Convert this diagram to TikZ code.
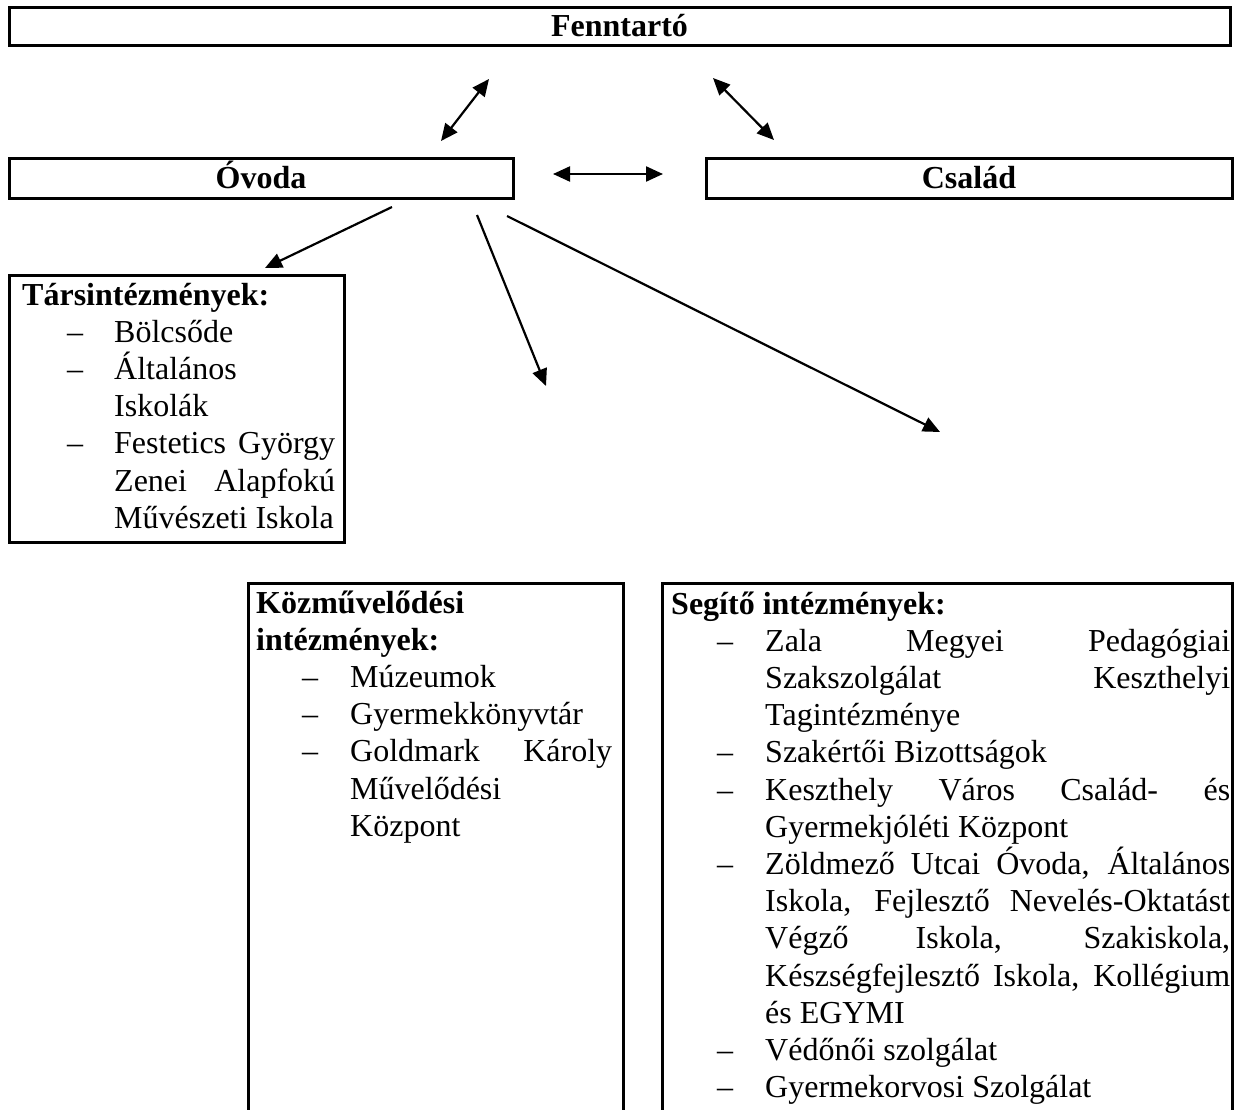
\documentclass[tikz,border=0pt]{standalone}
\usepackage{fontspec}
\setmainfont{Liberation Serif}
\usetikzlibrary{arrows.meta}

\newcommand\listsetup{\fontsize{32}{37.2}\selectfont\tolerance=10000\hbadness=10000\hyphenpenalty=10000\exhyphenpenalty=10000\parindent=0pt\parskip=0pt\rightskip=0pt\leftskip=0pt\spaceskip=0pt\xspaceskip=0pt\parfillskip=0pt plus 1fil\relax}
% #1 dash offset, #2 text offset, #3 text
\newcommand\myitem[3]{\par\noindent\hangindent=#2\hangafter=1\hspace*{#1}\makebox[\dimexpr#2-#1\relax][l]{–}#3\par}
\newcommand\listbox[2]{\begin{minipage}[t]{#1}\listsetup #2\end{minipage}}

\tikzset{
  frame/.style={draw=black, line width=3pt, rectangle, inner sep=0pt},
  headbox/.style={frame, font=\bfseries\fontsize{32}{37.2}\selectfont, text height=24pt, text depth=4pt},
  listtext/.style={anchor=base west, inner sep=0pt},
  onearrow/.style={line width=2.2pt, -{Triangle[length=17pt,width=15pt]}},
  twoarrow/.style={line width=2.2pt, {Triangle[length=17pt,width=15pt]}-{Triangle[length=17pt,width=15pt]}}
}

\begin{document}
\begin{tikzpicture}[x=1pt,y=-1pt]
\useasboundingbox (0,0) rectangle (1234,1110);
\fill[white] (0,0) rectangle (1234,1110);

% header boxes
\node[headbox, minimum width=1221pt, minimum height=38pt] (fenn) at (619.5,27) {Fenntartó};
\node[headbox, minimum width=504pt, minimum height=40pt] (ovoda) at (261,179) {Óvoda};
\node[headbox, minimum width=526pt, minimum height=40pt] (csalad) at (969,179) {Család};

% list boxes
\node[frame, minimum width=335pt, minimum height=267pt] (tars) at (176.5,408.5) {};
\node[frame, minimum width=375pt, minimum height=557pt] (kozm) at (435.5,861.5) {};
\node[frame, minimum width=570pt, minimum height=557pt] (segito) at (947,861.5) {};

% texts
\node[listtext] (tarstext) at (22,305) {\listbox{313pt}{%
\textbf{Társintézmények:}\par
\myitem{45pt}{92pt}{Bölcsőde}
\myitem{45pt}{92pt}{Általános\newline Iskolák}
\myitem{45pt}{92pt}{Festetics György\linebreak Zenei Alapfokú\linebreak Művészeti Iskola}%
}};

\node[listtext] (kozmtext) at (256,613) {\listbox{356pt}{%
\textbf{Közművelődési}\newline\textbf{intézmények:}\par
\myitem{46pt}{94pt}{Múzeumok}
\myitem{46pt}{94pt}{Gyermekkönyvtár}
\myitem{46pt}{94pt}{Goldmark Károly\linebreak Művelődési\newline Központ}%
}};

\node[listtext] (segitotext) at (671,614) {\listbox{559pt}{%
\textbf{Segítő intézmények:}\par
\myitem{46pt}{94pt}{Zala Megyei Pedagógiai\linebreak Szakszolgálat Keszthelyi\linebreak Tagintézménye}
\myitem{46pt}{94pt}{Szakértői Bizottságok}
\myitem{46pt}{94pt}{Keszthely Város Család- és\linebreak Gyermekjóléti Központ}
\myitem{46pt}{94pt}{Zöldmező Utcai Óvoda, Általános\linebreak Iskola, Fejlesztő Nevelés-Oktatást\linebreak Végző Iskola, Szakiskola,\linebreak Készségfejlesztő Iskola, Kollégium\linebreak és EGYMI}
\myitem{46pt}{94pt}{Védőnői szolgálat}
\myitem{46pt}{94pt}{Gyermekorvosi Szolgálat}%
}};

% connector end points
\coordinate (fo-a) at (441,141);
\coordinate (fo-b) at (489,79);
\coordinate (fc-a) at (713,78);
\coordinate (fc-b) at (774,140);
\coordinate (oc-a) at (553,174);
\coordinate (oc-b) at (663,174);
\coordinate (ot-a) at (392,207);
\coordinate (ot-b) at (265,268);
\coordinate (ok-a) at (477,215);
\coordinate (ok-b) at (546,386);
\coordinate (os-a) at (507,216);
\coordinate (os-b) at (940,432);

\draw[twoarrow] (fo-a) -- (fo-b);
\draw[twoarrow] (fc-a) -- (fc-b);
\draw[twoarrow] (oc-a) -- (oc-b);
\draw[onearrow] (ot-a) -- (ot-b);
\draw[onearrow] (ok-a) -- (ok-b);
\draw[onearrow] (os-a) -- (os-b);
\end{tikzpicture}
\end{document}
